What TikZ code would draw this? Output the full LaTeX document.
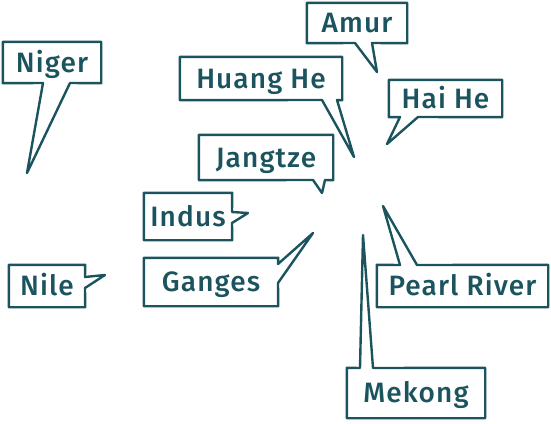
\documentclass[tikz,border=0pt]{standalone}
\usepackage{fontspec}
\setmainfont{Fira Sans}[LetterSpace=4, UprightFont=* Medium]
\usepackage{tikz}
\usetikzlibrary{positioning}
\definecolor{riverink}{RGB}{27,84,94}

\begin{document}
\begin{tikzpicture}[x=1pt,y=-1pt,
  bubble/.style={draw=riverink, line width=2.4pt, line join=round},
  lab/.style={text=riverink, font=\fontsize{28}{32}\selectfont,
    inner sep=0pt, text height=19pt, text depth=0pt}]
\useasboundingbox (0,0) rectangle (551,423);

% =========================================================
% Left side
% =========================================================
% Niger
\node[lab, minimum width=98pt, minimum height=41pt] (niger) at (52,62.5) {Niger};
\coordinate (nigerTip) at (27,173);
\draw[bubble] (niger.north west) -- (niger.north east) -- (niger.south east)
  -- (70,83) -- (nigerTip) -- (43,83) -- (niger.south west) -- cycle;

% Nile
\node[lab, minimum width=76pt, minimum height=42pt] (nile) at (47,286) {Nile};
\coordinate (nileTip) at (105,275);
\draw[bubble] (nile.north west) -- (nile.north east) -- (85,277) -- (nileTip)
  -- (85,288) -- (nile.south east) -- (nile.south west) -- cycle;

% =========================================================
% Middle
% =========================================================
% Amur
\node[lab, minimum width=100pt, minimum height=40pt] (amur) at (357,23) {Amur};
\coordinate (amurTip) at (377,72);
\draw[bubble] (amur.north west) -- (amur.north east) -- (amur.south east)
  -- (372,43) -- (amurTip) -- (355,43) -- (amur.south west) -- cycle;

% Huang He
\node[lab, minimum width=162pt, minimum height=43pt] (huanghe) at (261,78.5) {Huang He};
\coordinate (huangheTip) at (354,157);
\draw[bubble] (huanghe.north west) -- (huanghe.north east) -- (huanghe.south east)
  -- (337,100) -- (huangheTip) -- (322,100) -- (huanghe.south west) -- cycle;

% Jangtze
\node[lab, minimum width=134pt, minimum height=45pt] (jangtze) at (266,157.5) {Jangtze};
\coordinate (jangtzeTip) at (322,193);
\draw[bubble] (jangtze.north west) -- (jangtze.north east) -- (jangtze.south east)
  -- (325,180) -- (jangtzeTip) -- (313,180) -- (jangtze.south west) -- cycle;

% Indus
\node[lab, minimum width=88pt, minimum height=47pt] (indus) at (188,216.5) {Indus};
\coordinate (indusTip) at (248,213);
\draw[bubble] (indus.north west) -- (indus.north east) -- (232,212) -- (indusTip)
  -- (232,223) -- (indus.south east) -- (indus.south west) -- cycle;

% Ganges
\node[lab, minimum width=134pt, minimum height=48pt] (ganges) at (211,282) {Ganges};
\coordinate (gangesTip) at (313,233);
\draw[bubble] (ganges.north west) -- (ganges.north east) -- (278,264) -- (gangesTip)
  -- (278,283) -- (ganges.south east) -- (ganges.south west) -- cycle;

% =========================================================
% Right side
% =========================================================
% Hai He
\node[lab, minimum width=113pt, minimum height=37pt] (haihe) at (445.5,98.5) {Hai He};
\coordinate (haiheTip) at (387,144);
\draw[bubble] (haihe.north west) -- (haihe.north east) -- (haihe.south east)
  -- (418,117) -- (haiheTip) -- (400,117) -- (haihe.south west) -- cycle;

% Pearl River
\node[lab, minimum width=171pt, minimum height=42pt] (pearl) at (462.5,286) {Pearl River};
\coordinate (pearlTip) at (383,206);
\draw[bubble] (pearl.north west) -- (400,265) -- (pearlTip) -- (417,265)
  -- (pearl.north east) -- (pearl.south east) -- (pearl.south west) -- cycle;

% Mekong
\node[lab, minimum width=138pt, minimum height=50pt] (mekong) at (416,393) {Mekong};
\coordinate (mekongTip) at (363,235);
\draw[bubble] (mekong.north west) -- (360,368) -- (mekongTip) -- (373,368)
  -- (mekong.north east) -- (mekong.south east) -- (mekong.south west) -- cycle;

\end{tikzpicture}
\end{document}
